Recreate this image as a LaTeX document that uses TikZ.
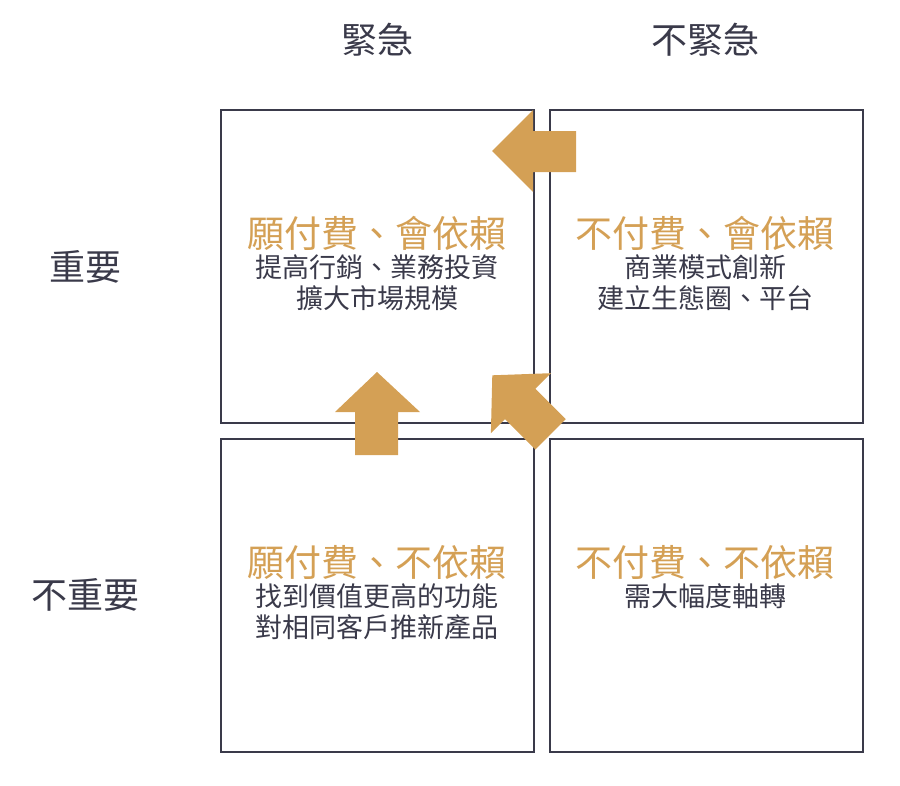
\documentclass[tikz,border=0pt]{standalone}
\usepackage{fontspec}
\setmainfont{Noto Sans CJK TC}
\usepackage{tikz}
\usetikzlibrary{positioning}
\definecolor{gold}{HTML}{D4A055}
\definecolor{ink}{HTML}{3A3A4A}

\begin{document}
\begin{tikzpicture}[x=1pt, y=-1pt]
  % Define styles
  \tikzstyle{quad} = [rectangle, draw=ink, line width=1.5pt, minimum width=313pt, minimum height=313pt, anchor=north west]
  \tikzstyle{head} = [font=\fontsize{36}{40}\selectfont, text=ink]
  \tikzstyle{title} = [font=\fontsize{37}{40}\selectfont, text=gold, inner sep=0pt]
  \tikzstyle{body} = [font=\fontsize{27}{31}\selectfont, text=ink, align=center, inner sep=0pt]
  \tikzstyle{bigarrow} = [fill=gold, draw=none]

  \useasboundingbox (0,0) rectangle (900,785);

  % Quadrants
  \node [quad] (tl) at (220,109) {};
  \node [quad] (tr) at (549,109) {};
  \node [quad] (bl) at (220,438) {};
  \node [quad] (br) at (549,438) {};

  % Headers
  \node [head] (urgent) at (377,40) {緊急};
  \node [head] (noturgent) at (705,40) {不緊急};
  \node [head] (important) at (85,267) {重要};
  \node [head] (notimportant) at (85,595) {不重要};

  % Quadrant texts
  \node [title] (tlt) at (377,233) {願付費、會依賴};
  \node [body, below=4pt of tlt] {提高行銷、業務投資\\擴大市場規模};
  \node [title] (trt) at (705,233) {不付費、會依賴};
  \node [body, below=4pt of trt] {商業模式創新\\建立生態圈、平台};
  \node [title] (blt) at (377,562) {願付費、不依賴};
  \node [body, below=4pt of blt] {找到價值更高的功能\\對相同客戶推新產品};
  \node [title] (brt) at (705,562) {不付費、不依賴};
  \node [body, below=4pt of brt] {需大幅度軸轉};

  % Arrows
  \fill [bigarrow] (576,131) -- (533,131) -- (533,110) -- (492,151) -- (533,192) -- (533,172) -- (576,172) -- cycle;
  \fill [bigarrow] (355,455) -- (355,412) -- (335,412) -- (377,372) -- (420,412) -- (398,412) -- (398,455) -- cycle;
  \begin{scope}[shift={(522,405)}, rotate=45]
    \fill [bigarrow] (-22,41) -- (-22,-2) -- (-42,-2) -- (0,-42) -- (43,-2) -- (21,-2) -- (21,41) -- cycle;
  \end{scope}
\end{tikzpicture}
\end{document}
